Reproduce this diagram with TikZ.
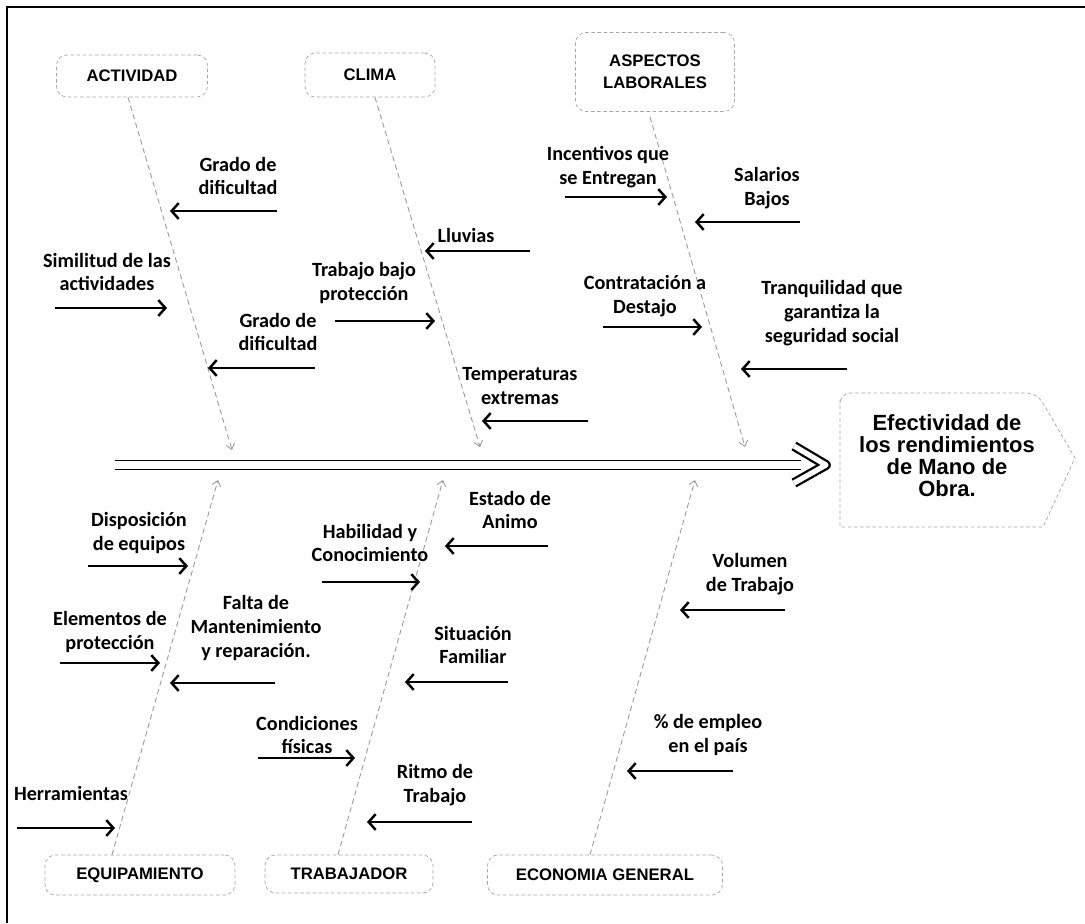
\documentclass[tikz,border=0pt]{standalone}
\usepackage{fontspec}
\usetikzlibrary{arrows.meta}
\newfontfamily\causafont{Carlito}[BoldFont={Carlito Bold}]
\newfontfamily\titfont{Liberation Sans}[BoldFont={Liberation Sans Bold}]
% una subcausa: nombre, posicion del texto, texto, x inicial, x final, y de la flecha
\newcommand{\subcausa}[6]{%
  \node[causa] (#1) at (#2) {#3};
  \coordinate (#1-i) at (#4,#6);
  \coordinate (#1-f) at (#5,#6);
  \draw[flecha] (#1-i) -- (#1-f);}
\tikzset{
  causa/.style={align=center, inner sep=0pt, font=\fontsize{11.5}{13.5}\selectfont\causafont\bfseries},
  flecha/.style={line width=1.4pt, -{Straight Barb[length=4pt,width=9pt]}},
  categoria/.style={draw=gray!70, dash pattern=on 2pt off 1.5pt, rounded corners=6pt, align=center,
    inner sep=0pt, font=\fontsize{9.5}{12.5}\selectfont\titfont\bfseries},
  hueso/.style={draw=gray!80, line width=0.5pt, densely dashed, -{Straight Barb[length=3pt,width=5pt]}},
  espina/.style={line width=0.9pt, double distance=4pt, line join=round},
}
\begin{document}
\begin{tikzpicture}[x=0.02cm,y=-0.02cm]
\useasboundingbox (0,0) rectangle (1085,923);
\draw[line width=1pt] (7,923) -- (7,7) -- (1085,7);

% categorias
\node[categoria, minimum width=3.02cm, minimum height=0.84cm] (act) at (132,76) {ACTIVIDAD};
\node[categoria, minimum width=2.6cm, minimum height=0.88cm] (clima) at (370,75) {CLIMA};
\node[categoria, minimum width=3.18cm, minimum height=1.58cm] (asp) at (655,72) {ASPECTOS\\LABORALES};
\node[categoria, minimum width=3.8cm, minimum height=0.8cm] (equip) at (140,875) {EQUIPAMIENTO};
\node[categoria, minimum width=3.36cm, minimum height=0.76cm] (trab) at (349,874) {TRABAJADOR};
\node[categoria, minimum width=4.7cm, minimum height=0.8cm] (econ) at (605,875) {ECONOMIA GENERAL};

% efecto
\node[align=center, font=\fontsize{12.5}{12.5}\selectfont\titfont\bfseries] (efecto) at (947,456)
  {Efectividad de\\los rendimientos\\de Mano de\\Obra.};
\draw[draw=gray!70, dash pattern=on 2pt off 1.5pt] (840,400) [rounded corners=6pt] -- (840,393) -- (1037,393)
  [sharp corners] -- (1075,458) -- (1043,527) -- (840,527) -- cycle;

% espina
\coordinate (espL) at (115,465);
\coordinate (espR) at (826,465);
\draw[espina] (espL) -- ([xshift=-0.5cm]espR);
\draw[espina, line width=1.3pt, double distance=3pt] ([shift={(-32,-19)}]espR) -- (espR) -- ([shift={(-32,18)}]espR);

% huesos
\coordinate (actB) at (232,450);
\coordinate (climaB) at (480,447);
\coordinate (aspB) at (745,447);
\coordinate (equipB) at (218,480);
\coordinate (trabB) at (443,480);
\coordinate (econB) at (695,480);
\draw[hueso] ([xshift=-0.08cm]act.south) -- (actB);
\draw[hueso] ([xshift=0.1cm]clima.south) -- (climaB);
\draw[hueso] ([xshift=-0.1cm,yshift=-0.1cm]asp.south) -- (aspB);
\draw[hueso] ([xshift=-0.56cm]equip.north) -- (equipB);
\draw[hueso] ([xshift=-0.22cm]trab.north) -- (trabB);
\draw[hueso] ([xshift=-0.3cm]econ.north) -- (econB);

% actividad
\subcausa{a1}{238,176}{Grado de\\dificultad}{277}{170}{211}
\subcausa{a2}{107,272}{Similitud de las\\actividades}{55}{167}{308}
\subcausa{a3}{278,332}{Grado de\\dificultad}{315}{208}{368}
% clima
\subcausa{c1}{466,235}{Lluvias}{530}{425}{251}
\subcausa{c2}{364,283}{Trabajo bajo\\protección}{335}{435}{321}
\subcausa{c3}{520,386}{Temperaturas\\extremas}{588}{482}{421}
% aspectos laborales
\subcausa{l1}{608,167}{Incentivos que\\se Entregan}{565}{667}{197}
\subcausa{l2}{767,188}{Salarios\\Bajos}{800}{695}{222}
\subcausa{l3}{645,296}{Contratación a\\Destajo}{603}{702}{327}
\subcausa{l4}{832,313}{Tranquilidad que\\garantiza la\\seguridad social}{847}{741}{369}
% equipamiento
\subcausa{e1}{139,533}{Disposición\\de equipos}{88}{188}{566}
\subcausa{e2}{110,632}{Elementos de\\protección}{60}{160}{663}
\subcausa{e3}{256,628}{Falta de\\Mantenimiento\\y reparación.}{275}{170}{683}
\subcausa{e4}{71,793}{Herramientas}{17}{115}{828}
% trabajador
\subcausa{t1}{370,543}{Habilidad y\\Conocimiento}{322}{420}{582}
\subcausa{t2}{510,510}{Estado de\\Animo}{548}{445}{546}
\subcausa{t3}{473,645}{Situación\\Familiar}{508}{405}{682}
\subcausa{t4}{307,735}{Condiciones\\físicas}{258}{355}{758}
\subcausa{t5}{435,785}{Ritmo de\\Trabajo}{472}{367}{822}
% economia general
\subcausa{g1}{750,574}{Volumen\\de Trabajo}{785}{680}{610}
\subcausa{g2}{708,735}{\% de empleo\\en el país}{733}{627}{771}
\end{tikzpicture}
\end{document}
